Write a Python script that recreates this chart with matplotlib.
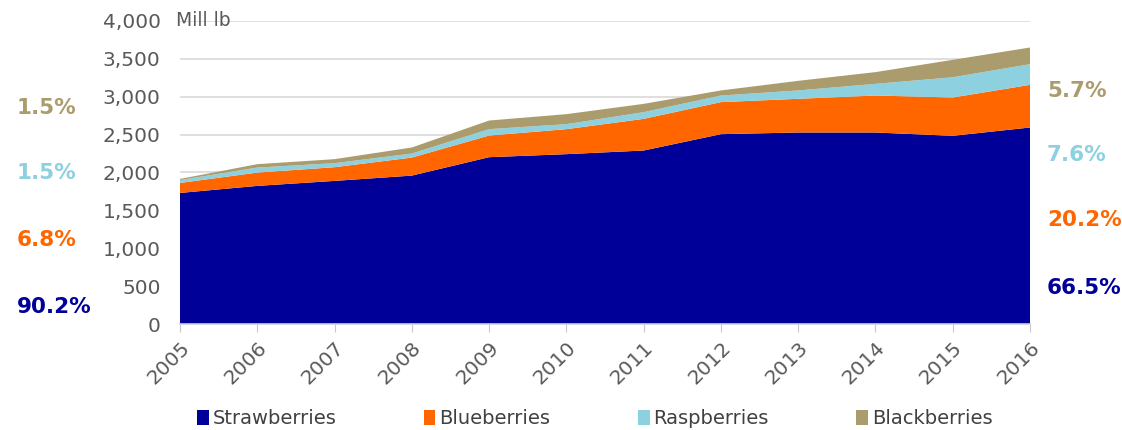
import matplotlib.pyplot as plt
from matplotlib.patches import Patch

# --- Data (Mill lb) ---
years = list(range(2005, 2017))
strawberries = [1730, 1823, 1889, 1959, 2202, 2242, 2290, 2506, 2528, 2528, 2484, 2594]
blueberries = [132, 176, 181, 238, 286, 330, 418, 423, 445, 488, 506, 563]
raspberries = [38, 66, 53, 53, 84, 66, 88, 87, 110, 154, 267, 273]
blackberries = [15, 45, 53, 80, 114, 132, 110, 67, 127, 155, 230, 220]

names = ["Strawberries", "Blueberries", "Raspberries", "Blackberries"]
colors = ["#000099", "#FF6600", "#8DD1E1", "#AB9C6E"]
share_2005 = ["90.2%", "6.8%", "1.5%", "1.5%"]
share_2016 = ["66.5%", "20.2%", "7.6%", "5.7%"]

# --- Plot ---
fig = plt.figure(figsize=(11.22, 4.30), dpi=100)
ax = fig.add_axes([0.1604, 0.2465, 0.7576, 0.7047])

ax.stackplot(years, strawberries, blueberries, raspberries, blackberries,
             colors=colors, linewidth=0, zorder=2)

ax.set_xlim(2005, 2016)
ax.set_ylim(0, 4000)
ax.set_yticks(range(0, 4001, 500))
ax.set_yticklabels([f"{v:,}" for v in range(0, 4001, 500)])
ax.set_xticks(years)
ax.set_xticklabels([str(y) for y in years], rotation=45, ha="right",
                   rotation_mode="anchor")

ax.grid(axis="y", color="#D9D9D9", linewidth=1.2, zorder=0)
for s in ["top", "right", "left"]:
    ax.spines[s].set_visible(False)
ax.spines["bottom"].set_color("#D0D0DE")
ax.spines["bottom"].set_linewidth(1.2)
ax.tick_params(axis="y", length=0, pad=14, labelsize=14.5, labelcolor="#595959")
ax.tick_params(axis="x", length=6, color="#C8C8C8", pad=4, labelsize=14.5,
               labelcolor="#595959")

ax.text(2004.95, 4000, "Mill lb", fontsize=13.5, color="#595959", va="center",
        ha="left", zorder=3)

# share labels on the left (2005) and right (2016)
left_y = [307, 240, 173, 108]
right_y = [288, 220, 155, 91]
for lab, c, yp in zip(share_2005, colors, left_y):
    fig.text(17 / 1122, 1 - yp / 430, lab, color=c, fontsize=15.5,
             fontweight="bold", va="center", ha="left")
for lab, c, yp in zip(share_2016, colors, right_y):
    fig.text(1047 / 1122, 1 - yp / 430, lab, color=c, fontsize=15.5,
             fontweight="bold", va="center", ha="left")

handles = [Patch(facecolor=c, edgecolor="none") for c in colors]
leg = fig.legend(handles, names, loc="center", bbox_to_anchor=(0.53, 0.027),
                 ncol=4, frameon=False, fontsize=14, handlelength=0.6,
                 handleheight=0.8, handletextpad=0.2, columnspacing=4.5)
for t in leg.get_texts():
    t.set_color("#404040")

fig.savefig("out.png", dpi=100)
